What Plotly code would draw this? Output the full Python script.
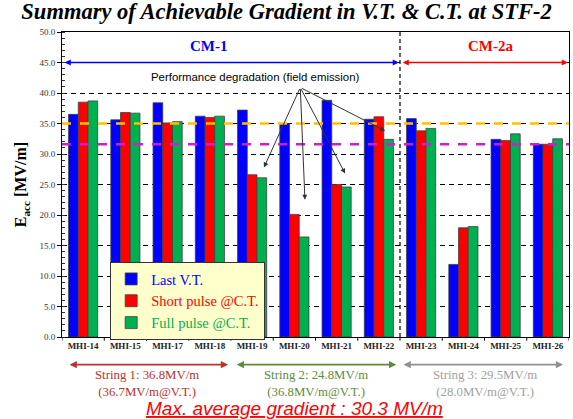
import plotly.graph_objects as go

categories = ["MHI-14", "MHI-15", "MHI-17", "MHI-18", "MHI-19", "MHI-20",
              "MHI-21", "MHI-22", "MHI-23", "MHI-24", "MHI-25", "MHI-26"]
last_vt = [36.5, 35.6, 38.4, 36.2, 37.2, 35.0, 38.8, 35.7, 35.8, 11.9, 32.4, 31.6]
short_pulse = [38.5, 36.8, 35.1, 36.0, 26.6, 20.1, 25.0, 36.1, 33.8, 17.9, 32.2, 31.6]
full_pulse = [38.7, 36.7, 35.3, 36.2, 26.1, 16.4, 24.6, 32.4, 34.2, 18.1, 33.3, 32.5]
series_names = ["Last V.T.", "Short pulse @C.T.", "Full pulse @C.T."]
series_colors = ["#0000FF", "#FF0000", "#00B050"]
ref_orange = 35.0
ref_magenta = 31.6
y_ticks = [0, 5, 10, 15, 20, 25, 30, 35, 40, 45, 50]
string_labels = ["String 1: 36.8MV/m<br>(36.7MV/m@V.T.)",
                 "String 2: 24.8MV/m<br>(36.8MV/m@V.T.)",
                 "String 3: 29.5MV/m<br>(28.0MV/m@V.T.)"]
string_colors = ["#C0302A", "#5E8C3A", "#A0A0A0"]
string_arrow_colors = ["#C0302A", "#5E8C3A", "#909090"]

serif = "Liberation Serif, Times New Roman, serif"
sans = "Liberation Sans, Arial, sans-serif"

fig = go.Figure()
for name, vals, col in zip(series_names, [last_vt, short_pulse, full_pulse], series_colors):
    fig.add_trace(go.Bar(
        x=list(range(len(categories))), y=vals,
        name=f'<span style="color:{col}">{name}</span>',
        marker=dict(color=col, line=dict(color="#404040", width=0.8)),
    ))

fig.update_layout(
    width=573, height=419,
    margin=dict(l=62, r=4, t=32, b=82),
    paper_bgcolor="white", plot_bgcolor="white",
    barmode="group", bargap=0.31, bargroupgap=0,
    title=dict(text="<b><i>Summary of Achievable Gradient in V.T. &amp; C.T. at STF-2</i></b>",
               font=dict(family=serif, size=22.5, color="black"),
               x=0.5, xanchor="center", y=0.993, yanchor="top"),
    legend=dict(x=0.095, y=0.246, xanchor="left", yanchor="top",
                bgcolor="#FFFFCC", bordercolor="#333333", borderwidth=1,
                font=dict(family=serif, size=14.5), tracegroupgap=0,
                itemwidth=30),
    showlegend=True,
)

fig.update_xaxes(
    tickmode="array", tickvals=list(range(len(categories))),
    ticktext=[f"<b>{c}</b>" for c in categories],
    range=[-0.5, len(categories) - 0.5],
    tickfont=dict(family=serif, size=9, color="#222222"),
    showline=True, linecolor="black", linewidth=1, mirror=True,
    showgrid=False, ticks="", zeroline=False,
)
fig.update_yaxes(
    range=[0, 50], tickvals=y_ticks, ticktext=[f"{v:.1f}" for v in y_ticks],
    tickfont=dict(family=serif, size=9, color="#333333"),
    showline=True, linecolor="black", linewidth=1, mirror=True,
    ticks="outside", ticklen=4, tickcolor="black",
    minor=dict(dtick=1, ticks="inside", ticklen=3, tickcolor="#333333", showgrid=False),
    showgrid=True, gridcolor="black", griddash="5px,4px", gridwidth=1,
    zeroline=False,
    title=dict(text="<b>E<sub>acc</sub> [MV/m]</b>", font=dict(family=serif, size=16, color="black"),
               standoff=8),
)

# category boundary ticks on x axis
for i in range(len(categories) + 1):
    fig.add_shape(type="line", xref="x", yref="paper", x0=i - 0.5, x1=i - 0.5,
                  y0=0, y1=-0.012, line=dict(color="black", width=1))

# reference lines
fig.add_shape(type="line", xref="paper", yref="y", x0=0, x1=1, y0=ref_orange, y1=ref_orange,
              line=dict(color="#FFC000", width=2.5, dash="dash"), layer="above")
fig.add_shape(type="line", xref="paper", yref="y", x0=0, x1=1, y0=ref_magenta, y1=ref_magenta,
              line=dict(color="#D21CD2", width=2.5, dash="dash"), layer="above")
# CM divider
fig.add_shape(type="line", xref="x", yref="y", x0=7.5, x1=7.5, y0=0, y1=50,
              line=dict(color="black", width=1.2, dash="4px,3px"), layer="above")

# CM arrows at 45
fig.add_annotation(x=7.47, y=45, ax=-0.47, ay=45, xref="x", yref="y", axref="x", ayref="y",
                   showarrow=True, arrowhead=2, arrowside="end+start", arrowsize=0.8,
                   arrowwidth=1.5, arrowcolor="#0000FF", text="")
fig.add_annotation(x=11.47, y=45, ax=7.53, ay=45, xref="x", yref="y", axref="x", ayref="y",
                   showarrow=True, arrowhead=2, arrowside="end+start", arrowsize=0.8,
                   arrowwidth=1.5, arrowcolor="#FF0000", text="")
fig.add_annotation(x=2.97, y=47.7, xref="x", yref="y", text="<b>CM-1</b>", showarrow=False,
                   font=dict(family=serif, size=15, color="#0000FF"))
fig.add_annotation(x=9.65, y=47.7, xref="x", yref="y", text="<b>CM-2a</b>", showarrow=False,
                   font=dict(family=serif, size=15, color="#FF0000"))

# performance degradation
fig.add_annotation(x=4.07, y=42.6, xref="x", yref="y",
                   text="Performance degradation (field emission)", showarrow=False,
                   font=dict(family=sans, size=11.4, color="black"))
for tx, ty in [(4.28, 27.8), (5.25, 22.5), (6.2, 26.8), (7.15, 33.8)]:
    fig.add_annotation(x=tx, y=ty, ax=5.14, ay=40.9, xref="x", yref="y", axref="x", ayref="y",
                       showarrow=True, arrowhead=2, arrowsize=1, arrowwidth=1,
                       arrowcolor="#333333", text="")

# string arrows and labels below
spans = [(-0.355, 3.43), (3.6, 7.41), (7.55, 11.36)]
centers = [1.5, 5.5, 9.5]
for (s0, s1), c, lab, tc, ac in zip(spans, centers, string_labels, string_colors, string_arrow_colors):
    fig.add_annotation(x=s1, y=-0.0906, ax=s0, ay=0, xref="x", yref="paper",
                       axref="x", ayref="pixel", showarrow=True, arrowhead=2,
                       arrowside="end+start", arrowsize=0.9, arrowwidth=1.6,
                       arrowcolor=ac, text="")
    fig.add_annotation(x=c, y=-0.151, xref="x", yref="paper", text=lab, showarrow=False,
                       font=dict(family=serif, size=12.8, color=tc), yanchor="middle")

fig.add_annotation(x=5.0, y=-0.236, xref="x", yref="paper",
                   text="<u><i>Max. average gradient : 30.3 MV/m</i></u>", showarrow=False,
                   font=dict(family=sans, size=19, color="#FF0000"), yanchor="middle")

fig.write_html("out.html", config={"displayModeBar": False},
               post_script="document.body.style.margin='0';document.body.style.overflow='hidden';")
